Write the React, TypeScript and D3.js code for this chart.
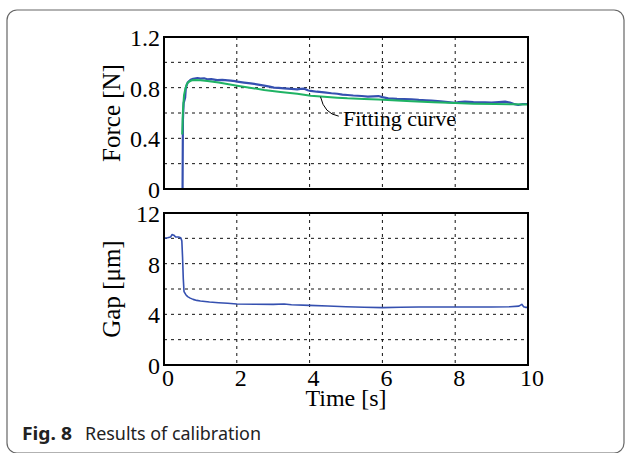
import React from 'react';
import * as d3 from 'd3';

// measured force [s, N]
const forceData: [number, number][] = [
  [0, 0], [0.5, 0], [0.51, 0.0], [0.52, 0.55], [0.54, 0.68], [0.56, 0.7], [0.58, 0.72],
  [0.6, 0.8], [0.65, 0.84], [0.73, 0.862], [0.8, 0.87], [0.92, 0.876], [1.0, 0.872],
  [1.1, 0.874], [1.19, 0.866], [1.3, 0.868], [1.46, 0.86], [1.6, 0.862], [1.83, 0.855],
  [1.95, 0.852], [2.01, 0.847], [2.2, 0.84], [2.38, 0.834], [2.55, 0.826], [2.75, 0.816],
  [2.9, 0.808], [3.02, 0.8], [3.15, 0.798], [3.3, 0.795], [3.5, 0.79], [3.66, 0.787],
  [3.75, 0.79], [3.85, 0.792], [3.95, 0.78], [4.03, 0.774], [4.2, 0.768], [4.4, 0.763],
  [4.6, 0.756], [4.76, 0.752], [4.9, 0.745], [5.04, 0.742], [5.2, 0.738], [5.43, 0.734],
  [5.6, 0.73], [5.75, 0.732], [5.89, 0.734], [6.0, 0.725], [6.16, 0.716], [6.4, 0.712],
  [6.6, 0.71], [6.8, 0.708], [7.0, 0.703], [7.2, 0.7], [7.35, 0.697], [7.6, 0.692],
  [7.8, 0.686], [7.99, 0.681], [8.1, 0.686], [8.27, 0.69], [8.5, 0.686], [8.82, 0.684],
  [9.0, 0.683], [9.2, 0.687], [9.37, 0.69], [9.5, 0.682], [9.6, 0.672], [9.73, 0.663],
  [9.85, 0.67], [10, 0.671],
];

// fitting curve [s, N]
const fitData: [number, number][] = [
  [0.5, 0.43], [0.52, 0.62], [0.55, 0.74], [0.59, 0.795], [0.63, 0.83], [0.68, 0.847],
  [0.75, 0.856], [0.82, 0.86], [1.0, 0.858], [1.19, 0.853], [1.5, 0.84], [2.01, 0.816],
  [2.4, 0.798], [2.75, 0.782], [3.2, 0.766], [3.66, 0.752], [4.03, 0.737], [4.4, 0.729],
  [4.76, 0.721], [5.04, 0.716], [5.5, 0.711], [5.89, 0.706], [6.4, 0.698], [6.8, 0.692],
  [7.4, 0.685], [8.0, 0.678], [8.5, 0.674], [9.1, 0.671], [9.6, 0.669], [10, 0.668],
];

// gap [s, um]
const gapData: [number, number][] = [
  [0, 10.0], [0.1, 10.05], [0.18, 10.1], [0.22, 10.3], [0.27, 10.25], [0.32, 10.1],
  [0.4, 10.1], [0.46, 10.05], [0.49, 9.8], [0.51, 8.5], [0.53, 6.8], [0.55, 5.8],
  [0.6, 5.55], [0.65, 5.4], [0.72, 5.28], [0.8, 5.18], [0.9, 5.1], [1.0, 5.05],
  [1.25, 4.97], [1.5, 4.92], [1.75, 4.87], [2.0, 4.82], [2.5, 4.8], [3.0, 4.79],
  [3.3, 4.81], [3.5, 4.76], [4.0, 4.71], [4.5, 4.66], [5.0, 4.6], [5.5, 4.56],
  [6.0, 4.53], [6.5, 4.56], [7.0, 4.58], [7.5, 4.58], [8.0, 4.58], [8.5, 4.58],
  [9.0, 4.58], [9.5, 4.6], [9.75, 4.65], [9.83, 4.79], [9.88, 4.6], [9.93, 4.55], [10, 4.55],
];

const timeTicks = [0, 2, 4, 6, 8, 10];
const forceGrid = [0.2, 0.4, 0.6, 0.8, 1.0];
const forceLabels = [0, 0.4, 0.8, 1.2];
const gapGrid = [2, 4, 6, 8, 10];
const gapLabels = [0, 4, 8, 12];

const BLUE = '#3550b0';
const GREEN = '#1fb364';
const serif = 'Liberation Serif';

const left = 164, right = 528;
const x = d3.scaleLinear().domain([0, 10]).range([left, right]);
const yF = d3.scaleLinear().domain([0, 1.2]).range([189, 37]);
const yG = d3.scaleLinear().domain([0, 12]).range([365, 213]);

function Panel({ y, grid, labels, data, id, children }: any) {
  const [y0, y1] = y.range();
  const line = d3.line<[number, number]>().x(d => x(d[0])).y(d => y(d[1]));
  return (
    <g>
      <clipPath id={id}>
        <rect x={left} y={y1} width={right - left} height={y0 - y1} />
      </clipPath>
      {timeTicks.slice(1, -1).map(t => (
        <line key={'v' + t} x1={x(t)} x2={x(t)} y1={y1} y2={y0}
          stroke="#111" strokeWidth={1} strokeDasharray="3,4" />
      ))}
      {grid.map((g: number) => (
        <line key={'h' + g} x1={left} x2={right} y1={y(g)} y2={y(g)}
          stroke="#111" strokeWidth={1} strokeDasharray="3,4" />
      ))}
      <g clipPath={`url(#${id})`}>
        {data.map((d: any, i: number) => (
          <path key={i} d={line(d.values) || ''} fill="none" stroke={d.color}
            strokeWidth={d.width} strokeLinejoin="round" />
        ))}
      </g>
      <rect x={left} y={y1} width={right - left} height={y0 - y1}
        fill="none" stroke="#000" strokeWidth={2} />
      {labels.map((v: number) => (
        <text key={'l' + v} x={160} y={y(v) + 9} textAnchor="end"
          style={{ fontFamily: serif }} fontSize={24}>{String(v)}</text>
      ))}
      {children}
    </g>
  );
}

export default function App() {
  return (
    <svg width={625} height={453} style={{ position: 'absolute', left: 0, top: 0, background: '#fff' }}>
      <rect x={7} y={10} width={617} height={443} rx={10} fill="#fff" stroke="#666" strokeWidth={1.2} />

      <Panel y={yF} grid={forceGrid} labels={forceLabels} id="clipF"
        data={[
          { values: forceData, color: BLUE, width: 2.2 },
          { values: fitData, color: GREEN, width: 2 },
        ]}>
        <text transform="translate(120,113) rotate(-90)" textAnchor="middle"
          style={{ fontFamily: serif }} fontSize={25}>Force [N]</text>
        <path d={`M${x(4.3)},${yF(0.728)} Q${x(4.4)},${yF(0.595)} ${x(4.8)},${yF(0.575)}`}
          fill="none" stroke="#000" strokeWidth={1} />
        <text x={343} y={126} style={{ fontFamily: serif }} fontSize={22}>Fitting curve</text>
      </Panel>

      <Panel y={yG} grid={gapGrid} labels={gapLabels} id="clipG"
        data={[{ values: gapData, color: BLUE, width: 1.6 }]}>
        <text transform="translate(120,289) rotate(-90)" textAnchor="middle"
          style={{ fontFamily: serif }} fontSize={25}>Gap [μm]</text>
        {timeTicks.map(t => (
          <text key={'x' + t} x={x(t) + 4} y={386} textAnchor="middle"
            style={{ fontFamily: serif }} fontSize={24}>{t}</text>
        ))}
        <text x={(left + right) / 2} y={406} textAnchor="middle"
          style={{ fontFamily: serif }} fontSize={24}>Time [s]</text>
      </Panel>

      <text x={22} y={440} fontFamily="Noto Sans" fontSize={18} fontWeight="bold"
        fill="#222" textLength={50} lengthAdjust="spacingAndGlyphs">Fig. 8</text>
      <text x={85} y={440} fontFamily="Noto Sans" fontSize={18}
        fill="#222" textLength={176} lengthAdjust="spacingAndGlyphs">Results of calibration</text>
    </svg>
  );
}
